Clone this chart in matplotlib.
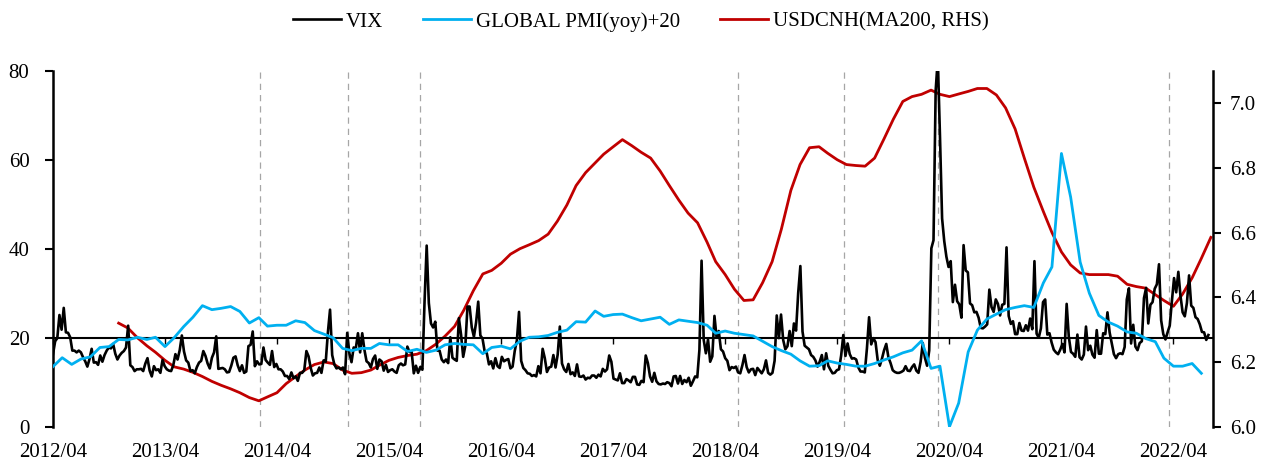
import numpy as np
import pandas as pd
import matplotlib
matplotlib.use("Agg")
import matplotlib.pyplot as plt
import matplotlib.dates as mdates

plt.rcParams['font.family'] = ['Liberation Serif', 'DejaVu Serif']

# ---------------- data ----------------
vix_start = "2012-04-01"   # weekly observations (chart-aligned)
vix = [
    # 2012
    16.3, 19.2, 19.9, 25.1, 21.8, 26.7, 21.2, 21.1, 20.1, 17.1, 17.1, 16.7, 17.1, 16.7, 15.6, 14.7, 13.5, 15.2,
    17.5, 14.4, 14.5, 13.9, 16.0, 14.6, 16.1, 17.1, 17.8, 17.6, 18.6, 16.4, 15.1, 16.0, 16.6, 17.0, 17.8, 22.7,
    # 2013
    13.8, 13.4, 12.5, 12.9, 12.9, 13.0, 12.5, 14.2, 15.4, 12.6, 11.3, 13.6, 12.7, 12.9, 12.1, 15.0, 13.6, 12.9,
    12.6, 12.5, 13.8, 16.3, 15.1, 17.2, 20.5, 16.9, 14.9, 14.4, 12.5, 12.7, 12.0, 13.4, 14.4, 14.8, 17.0, 15.9,
    14.2, 13.1, 15.5, 16.7, 20.3, 13.0, 13.1, 13.2, 12.9, 12.2, 12.3, 13.7, 15.5, 15.8, 13.8, 12.5,
    # 2014
    13.8, 12.1, 12.4, 18.1, 18.4, 21.4, 13.6, 14.7, 14.0, 14.1, 17.8, 15.0, 14.4, 13.9, 17.0, 13.4, 14.1, 12.9,
    12.9, 12.4, 11.4, 11.4, 10.7, 12.2, 10.9, 11.3, 10.3, 12.1, 12.1, 12.7, 17.0, 15.8, 13.2, 11.5, 12.0, 12.1,
    13.3, 12.1, 14.9, 14.6, 21.2, 26.3, 16.1, 14.0, 13.1, 13.3, 12.9, 13.3, 11.8, 21.1, 16.5, 14.5,
    # 2015
    17.8, 17.6, 21.0, 16.7, 21.0, 17.3, 14.7, 14.3, 13.3, 15.2, 16.0, 13.0, 15.1, 14.7, 12.6, 13.9, 12.3, 12.7,
    12.9, 12.4, 12.1, 13.8, 14.2, 13.8, 14.0, 18.0, 16.8, 16.8, 12.0, 13.7, 12.1, 13.4, 12.8, 28.0, 40.7, 27.8,
    23.2, 22.3, 23.6, 17.1, 17.1, 15.1, 14.5, 15.1, 14.3, 20.1, 15.5, 15.1, 14.8, 24.4, 20.7, 15.7,
    # 2016
    18.2, 27.0, 27.0, 22.3, 20.2, 23.4, 28.1, 20.5, 19.8, 16.9, 16.5, 14.0, 14.7, 13.1, 15.4, 13.6, 13.2, 15.7,
    14.7, 15.0, 15.2, 13.1, 13.5, 17.0, 19.4, 25.8, 14.8, 13.2, 12.7, 12.0, 11.9, 11.4, 11.6, 11.3, 13.6, 12.0,
    17.5, 15.4, 12.3, 13.3, 13.5, 16.1, 13.3, 16.2, 22.5, 14.2, 12.9, 12.3, 14.1, 11.8, 12.2, 11.4, 14.0,
    # 2017
    11.3, 11.2, 11.5, 10.6, 11.0, 10.9, 11.5, 11.5, 11.0, 11.7, 11.3, 13.0, 12.4, 12.9, 16.0, 14.6, 10.8, 10.6,
    10.4, 12.0, 9.8, 9.8, 10.7, 10.4, 10.0, 11.2, 11.2, 9.5, 9.4, 10.3, 10.0, 16.0, 14.3, 11.3, 10.1, 12.1,
    10.2, 9.6, 9.5, 9.7, 9.6, 10.0, 9.8, 9.1, 11.3, 11.4, 9.7, 11.4, 9.6, 10.5, 10.0, 11.0,
    # 2018
    9.2, 10.2, 11.3, 11.1, 17.3, 37.3, 19.5, 16.5, 19.6, 14.6, 15.8, 24.9, 20.0, 21.5, 17.4, 16.9, 15.4, 14.8,
    12.7, 13.4, 13.2, 13.5, 12.2, 12.0, 13.8, 16.1, 13.4, 12.2, 12.9, 13.0, 11.6, 13.2, 12.6, 12.0, 12.9, 14.9,
    12.1, 11.7, 12.1, 14.8, 25.0, 19.9, 25.2, 19.5, 17.4, 18.1, 21.5, 18.1, 23.2, 21.6, 30.1, 36.1,
    # 2019
    21.4, 18.2, 17.8, 17.4, 16.1, 15.7, 14.9, 13.5, 14.6, 16.1, 12.9, 16.5, 13.7, 12.8, 12.0, 12.1, 12.7, 12.9,
    16.0, 20.6, 15.9, 18.7, 16.3, 15.3, 15.4, 15.1, 13.3, 12.4, 12.4, 12.2, 17.6, 24.6, 18.5, 19.9, 19.0, 15.0,
    13.7, 15.3, 17.2, 18.6, 15.6, 14.3, 12.7, 12.3, 12.1, 12.1, 12.3, 12.6, 13.6, 12.6, 12.5, 13.4,
    # 2020
    14.0, 12.6, 12.1, 14.6, 18.8, 15.5, 13.7, 17.1, 40.1, 41.9, 75.5, 82.7, 65.5, 46.8, 41.7, 38.2, 35.9, 37.2,
    28.0, 31.9, 28.2, 27.5, 24.5, 40.8, 35.1, 34.7, 27.7, 27.3, 25.7, 25.8, 24.5, 22.2, 22.1, 22.5, 23.0, 30.8,
    26.9, 25.8, 28.6, 27.6, 25.0, 27.4, 27.6, 40.3, 24.9, 23.1, 23.7, 20.8, 20.8, 23.3, 21.6, 21.5,
    # 2021
    22.8, 21.6, 24.3, 21.9, 37.2, 20.9, 20.0, 22.1, 28.0, 28.6, 20.7, 21.0, 18.9, 17.3, 16.7, 16.3, 17.3, 18.6,
    16.7, 27.6, 20.2, 16.8, 16.4, 15.7, 20.7, 15.6, 15.1, 16.2, 22.5, 17.2, 18.2, 16.2, 15.5, 21.7, 16.4, 16.4,
    21.0, 20.8, 25.7, 21.2, 18.8, 16.3, 15.4, 16.3, 16.5, 16.3, 17.9, 28.6, 31.1, 18.7, 22.9, 18.0, 17.2,
    # 2022
    18.8, 19.2, 28.9, 31.2, 23.2, 27.4, 28.0, 31.0, 32.0, 36.5, 23.9, 20.8, 19.6, 21.2, 22.7, 28.2, 33.4, 30.2,
    34.8, 29.4, 25.7, 24.8, 27.8, 34.0, 27.2, 26.7, 24.6, 24.2, 23.0, 21.3, 21.2, 19.5, 20.6,
]

pmi_start = "2012-04-01"   # monthly
pmi = [
    13.5, 15.5, 14.0, 15.2, 15.7, 17.8, 18.0, 19.6, 19.5, 20.1, 19.6, 20.1,
    18.0, 20.0, 22.5, 24.6, 27.2, 26.3, 26.6, 27.0, 25.9, 23.3, 24.5, 22.6,
    22.8, 22.8, 23.8, 23.4, 21.6, 20.8, 20.0, 17.6, 17.1, 17.6, 17.6, 18.7,
    18.4, 18.4, 16.9, 17.4, 16.7, 17.2, 18.4, 18.7, 18.5, 18.4, 16.4, 17.8,
    18.1, 17.5, 19.2, 20.1, 20.2, 20.5, 21.2, 21.7, 23.6, 23.5, 26.0, 24.8,
    25.2, 25.3, 24.5, 23.8, 24.2, 24.6, 23.0, 24.0, 23.7, 23.4, 22.8, 21.0,
    21.5, 21.0, 20.7, 20.4, 19.2, 18.0, 17.1, 16.3, 14.8, 13.6, 13.7, 14.8,
    14.3, 14.0, 13.6, 13.6, 14.2, 15.0, 15.7, 16.6, 17.2, 19.3, 13.1, 13.6,
    0.0, 5.3, 16.8, 21.7, 24.2, 25.3, 26.3, 26.8, 27.2, 26.8, 32.3, 35.9,
    61.4, 51.6, 37.0, 30.0, 25.0, 23.5, 22.6, 21.3, 21.0, 19.8, 19.1, 15.4,
    13.6, 13.6, 14.2, 12.0,
]

cnh_start = "2012-11-01"   # monthly
cnh = [
    6.320, 6.305,
    6.275, 6.250, 6.230, 6.205, 6.185, 6.178, 6.168, 6.155, 6.140, 6.128, 6.117, 6.105,
    6.090, 6.080, 6.092, 6.105, 6.133, 6.155, 6.175, 6.192, 6.200, 6.195, 6.175, 6.165,
    6.167, 6.175, 6.190, 6.205, 6.214, 6.220, 6.224, 6.235, 6.255, 6.280, 6.310, 6.360,
    6.420, 6.472, 6.483, 6.505, 6.533, 6.550, 6.562, 6.575, 6.595, 6.635, 6.685, 6.745,
    6.785, 6.815, 6.842, 6.865, 6.887, 6.868, 6.848, 6.830, 6.790, 6.745, 6.700, 6.660,
    6.630, 6.570, 6.510, 6.470, 6.425, 6.390, 6.392, 6.445, 6.510, 6.610, 6.730, 6.810,
    6.862, 6.865, 6.845, 6.825, 6.810, 6.807, 6.805, 6.830, 6.890, 6.950, 7.005, 7.020,
    7.027, 7.040, 7.027, 7.020, 7.028, 7.036, 7.045, 7.045, 7.025, 6.985, 6.920, 6.830,
    6.740, 6.665, 6.600, 6.540, 6.500, 6.475, 6.470, 6.470, 6.470, 6.465, 6.440, 6.433,
    6.428, 6.408, 6.390, 6.372, 6.410, 6.460, 6.520, 6.585,
]

event_dates = ["2014-02-05", "2014-11-17", "2015-07-12", "2018-05-14",
               "2019-04-23", "2020-02-24", "2022-03-17"]

tick_years = list(range(2012, 2023))
tick_labels = [f"{y}/04" for y in tick_years]
x_min, x_max = "2012-04-01", "2022-08-08"

labels = ["VIX", "GLOBAL PMI(yoy)+20", "USDCNH(MA200, RHS)"]
colors = ["#000000", "#00B0F0", "#C00000"]

# ---------------- plotting ----------------
vix_x = mdates.date2num(pd.date_range(vix_start, periods=len(vix), freq="7D"))
pmi_x = mdates.date2num(pd.date_range(pmi_start, periods=len(pmi), freq="MS"))
cnh_x = mdates.date2num(pd.date_range(cnh_start, periods=len(cnh), freq="MS"))
ev_x = mdates.date2num(pd.to_datetime(event_dates))
tick_x = mdates.date2num(pd.to_datetime([f"{y}-04-01" for y in tick_years]))

fig = plt.figure(figsize=(12.69, 4.63), dpi=100)
ax = fig.add_axes([53 / 1269, 1 - 426.7 / 463, (1213 - 53) / 1269, (426.7 - 70.7) / 463])
ax2 = ax.twinx()

ax.set_zorder(ax2.get_zorder() + 1)
ax.patch.set_visible(False)

for ex in ev_x:
    ax2.axvline(ex, color="#A6A6A6", lw=0.9, ls=(0, (5, 4)), zorder=0)

l3, = ax2.plot(cnh_x, cnh, color=colors[2], lw=2.0, zorder=2)
l1, = ax.plot(vix_x, vix, color=colors[0], lw=1.9, zorder=3)
l2, = ax.plot(pmi_x, pmi, color=colors[1], lw=2.0, zorder=4)

ax.set_ylim(0, 80)
ax2.set_ylim(6.0, 7.1)
ax.set_xlim(mdates.date2num(pd.Timestamp(x_min)), mdates.date2num(pd.Timestamp(x_max)))

ax.set_yticks([0, 20, 40, 60, 80])
ax2.set_yticks([6.0, 6.2, 6.4, 6.6, 6.8, 7.0])
ax2.set_yticklabels([f"{v:.1f}" for v in [6.0, 6.2, 6.4, 6.6, 6.8, 7.0]])

for s in ["top"]:
    ax.spines[s].set_visible(False)
    ax2.spines[s].set_visible(False)
ax2.spines["bottom"].set_visible(False)
ax.spines["right"].set_visible(False)
ax2.spines["left"].set_visible(False)
ax.spines["left"].set_linewidth(1.8)
ax2.spines["right"].set_linewidth(1.8)

# horizontal axis crossing at 20
ax.spines["bottom"].set_position(("data", 20))
ax.spines["bottom"].set_linewidth(1.5)
ax.set_xticks(tick_x)
ax.tick_params(axis="x", direction="out", length=4, width=1, labelbottom=False)

secax = ax.secondary_xaxis("bottom")
secax.set_xticks(tick_x)
secax.set_xticklabels(tick_labels)
secax.spines["bottom"].set_visible(False)
secax.tick_params(axis="x", length=0, pad=12, labelsize=15)

ax.tick_params(axis="y", direction="out", length=6, width=1.5, pad=11, labelsize=15)
ax2.tick_params(axis="y", direction="out", length=6, width=1.5, pad=6, labelsize=15)

fig.legend([l1, l2, l3], labels, loc="center", bbox_to_anchor=(0.505, 0.953), ncol=3,
           frameon=False, fontsize=15, handlelength=2.3, handletextpad=0.25,
           columnspacing=1.9)

fig.savefig("out.png", dpi=100)
